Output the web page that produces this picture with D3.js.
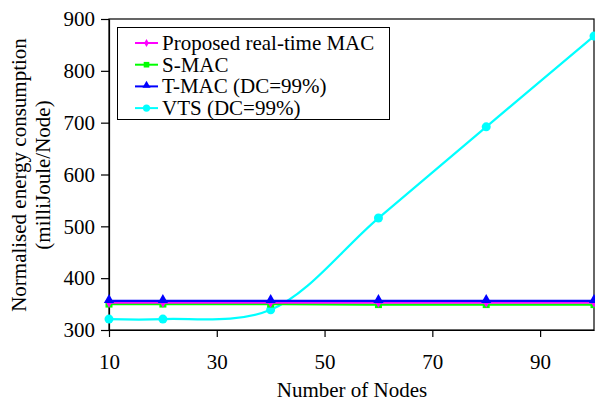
<!DOCTYPE html>
<html><head><meta charset="utf-8">
<script src="https://cdn.jsdelivr.net/npm/d3@7"></script>
<style>body{margin:0;background:#fff}svg{display:block}</style>
</head><body><svg id="c" width="595" height="403"></svg>
<script>
const nodes = [10, 20, 40, 60, 80, 100];
const proposed = [353, 353, 353, 353, 353, 353];
const smac = [350, 350, 350, 349, 349, 349];
const tmac = [356, 356, 356, 356, 356, 356];
const vts = [321, 321, 339, 516, 692, 867];
const xTicks = [10, 30, 50, 70, 90];
const yTicks = [300, 400, 500, 600, 700, 800, 900];
const seriesNames = ["Proposed real-time MAC", "S-MAC", "T-MAC (DC=99%)", "VTS (DC=99%)"];
const colors = ["#ff00ff", "#00ff00", "#0000ff", "#00ffff"];

const FONT = "Liberation Serif, Times New Roman, DejaVu Serif, serif";
const FS = "21px";
const svg = d3.select("#c");
const L = 109, R = 594, T = 19, B = 330;
const x = d3.scaleLinear().domain([10, 100]).range([L, R]);
const y = d3.scaleLinear().domain([300, 900]).range([B, T]);

svg.append("rect").attr("x", L).attr("y", T).attr("width", R - L).attr("height", B - T)
  .attr("fill", "none").attr("stroke", "#000").attr("stroke-width", 1.2);

const xa = svg.append("g").attr("transform", `translate(0,${B})`)
  .call(d3.axisBottom(x).tickValues(xTicks).tickSize(7).tickPadding(17).tickSizeOuter(0));
const ya = svg.append("g").attr("transform", `translate(${L},0)`)
  .call(d3.axisLeft(y).tickValues(yTicks).tickSize(8).tickPadding(6).tickSizeOuter(0));
[xa, ya].forEach(g => {
  g.attr("font-family", FONT).attr("font-size", 21);
  g.select(".domain").attr("stroke", "#000").attr("stroke-width", 1.2);
  g.selectAll(".tick line").attr("stroke", "#000").attr("stroke-width", 1.2);
  g.selectAll("text").style("font-family", FONT).style("font-size", FS).attr("fill", "#000");
});

svg.append("text").attr("x", 352).attr("y", 397).attr("text-anchor", "middle")
  .style("font-family", FONT).style("font-size", FS).text("Number of Nodes");
const yl = svg.append("text").attr("transform", `translate(0,175) rotate(-90)`).attr("text-anchor", "middle")
  .style("font-family", FONT).style("font-size", FS);
yl.append("tspan").attr("x", 0).attr("y", 26).text("Normalised energy consumption");
yl.append("tspan").attr("x", 0).attr("y", 50).text("(milliJoule/Node)");

const data = [proposed, smac, tmac, vts];
const order = [3, 1, 0, 2];
const line = d3.line().x(d => x(d[0])).y(d => y(d[1])).curve(d3.curveCatmullRom.alpha(0.5));

function marker(g, i, cx, cy, s) {
  s = s || 1;
  const c = colors[i];
  if (i === 0) g.append("path").attr("d", d3.symbol(d3.symbolDiamond, 30 * s * s)()).attr("transform", `translate(${cx},${cy})`).attr("fill", c);
  else if (i === 1) g.append("rect").attr("x", cx - 3.5 * s).attr("y", cy - 3.5 * s).attr("width", 7 * s).attr("height", 7 * s).attr("fill", c);
  else if (i === 2) g.append("path").attr("d", d3.symbol(d3.symbolTriangle, 45 * s * s)()).attr("transform", `translate(${cx},${cy - 1})`).attr("fill", c);
  else g.append("circle").attr("cx", cx).attr("cy", cy).attr("r", 4.5 * s).attr("fill", c);
}

order.forEach(i => {
  const pts = nodes.map((n, k) => [n, data[i][k]]);
  const g = svg.append("g");
  g.append("path").attr("d", line(pts)).attr("fill", "none").attr("stroke", colors[i]).attr("stroke-width", 2.2);
  pts.forEach(p => marker(g, i, x(p[0]), y(p[1])));
});

const lg = svg.append("g");
lg.append("rect").attr("x", 117.5).attr("y", 27.5).attr("width", 272).attr("height", 92)
  .attr("fill", "#fff").attr("stroke", "#000").attr("stroke-width", 1);
seriesNames.forEach((nm, i) => {
  const yy = 43 + i * 21.7;
  lg.append("line").attr("x1", 135).attr("x2", 158).attr("y1", yy).attr("y2", yy).attr("stroke", colors[i]).attr("stroke-width", 2);
  marker(lg, i, 146.5, yy, 0.8);
  lg.append("text").attr("x", 162).attr("y", yy + 7).style("font-family", FONT).style("font-size", FS).text(nm);
});
</script></body></html>
